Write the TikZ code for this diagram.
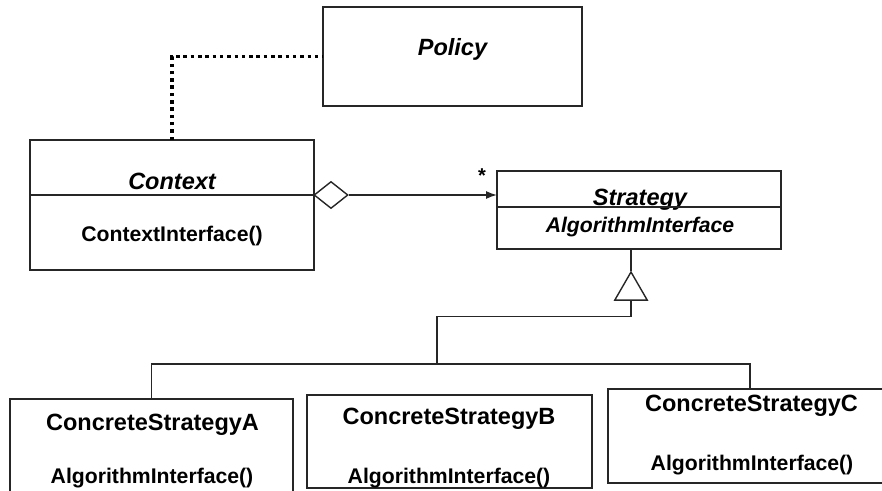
\documentclass[tikz,border=0pt]{standalone}
\usepackage{fontspec}
\setmainfont{Liberation Sans}
\usetikzlibrary{positioning,arrows.meta,shapes.geometric}

\tikzset{
  umlbox/.style={draw=black!85, line width=1.6pt, rectangle, inner sep=0pt, outer sep=0pt},
  clsname/.style={anchor=base, font=\fontsize{23.5}{26}\selectfont\bfseries\itshape},
  bigname/.style={anchor=base, font=\fontsize{23.5}{26}\selectfont\bfseries},
  opname/.style={anchor=base, font=\fontsize{21.2}{24}\selectfont\bfseries},
  opitalic/.style={opname, font=\fontsize{21.2}{24}\selectfont\bfseries\itshape},
  link/.style={draw=black!85, line width=1.4pt},
}

\begin{document}
\begin{tikzpicture}[x=1pt, y=-1pt, >={Latex[length=11pt,width=8pt]}]
  \useasboundingbox (0,0) rectangle (882,490);
  \clip (0,0) rectangle (882,490);

  % policy and context
  \node[umlbox, minimum width=259pt, minimum height=99pt] (policy) at (452.5,56.5) {};
  \node[clsname] (policyname) at (452.5,55) {Policy};

  \node[umlbox, minimum width=284pt, minimum height=130pt] (context) at (172,205) {};
  \node[clsname] (contextname) at (172,189) {Context};
  \node[opname] (contextop) at (172,241) {ContextInterface()};
  \draw[link] ([yshift=-55pt]context.north west) -- ([yshift=-55pt]context.north east);

  % strategy
  \node[umlbox, minimum width=284pt, minimum height=78pt] (strategy) at (639,210) {};
  \node[clsname] (strategyname) at (640,205) {Strategy};
  \node[opitalic] (strategyop) at (640,232) {AlgorithmInterface};
  \draw[link] ([yshift=-36pt]strategy.north west) -- ([yshift=-36pt]strategy.north east);

  % concrete strategies
  \node[umlbox, minimum width=283pt, minimum height=106pt] (csa) at (151.5,452) {};
  \node[bigname] (csaname) at (152.5,430) {ConcreteStrategyA};
  \node[opname] (csaop) at (152,483) {AlgorithmInterface()};

  \node[umlbox, minimum width=285pt, minimum height=93pt] (csb) at (449.5,441.5) {};
  \node[bigname] (csbname) at (449,424) {ConcreteStrategyB};
  \node[opname] (csbop) at (449,483) {AlgorithmInterface()};

  \node[umlbox, minimum width=284pt, minimum height=94pt] (csc) at (750,436) {};
  \node[bigname] (cscname) at (751.5,411) {ConcreteStrategyC};
  \node[opname] (cscop) at (752,470) {AlgorithmInterface()};

  % associations
  \draw[line width=3.5pt, dash pattern=on 3.5pt off 3.8pt] (context.north) |- (policy.west);

  \node[diamond, draw=black!85, fill=white, line width=1.4pt, inner sep=0pt,
        minimum width=34pt, minimum height=27pt] (agg) at (331,195) {};
  \draw[link,->] (agg.east) -- (agg.east -| strategy.west);
  \node[anchor=base, font=\fontsize{20}{20}\selectfont\bfseries] (mult) at (482,182) {*};

  % inheritance
  \node[regular polygon, regular polygon sides=3, draw=black!85, line width=1.4pt,
        inner sep=0pt, minimum size=37.4pt] (gen) at (631,290.7) {};
  \draw[link] (gen.north) -- (gen.north |- strategy.south);
  \coordinate (bus) at (437,364);
  \draw[link] (gen.south) -- ++(0,16) -| (bus);
  \draw[link] (csa.north) |- (bus) -| (csc.north);
\end{tikzpicture}
\end{document}
